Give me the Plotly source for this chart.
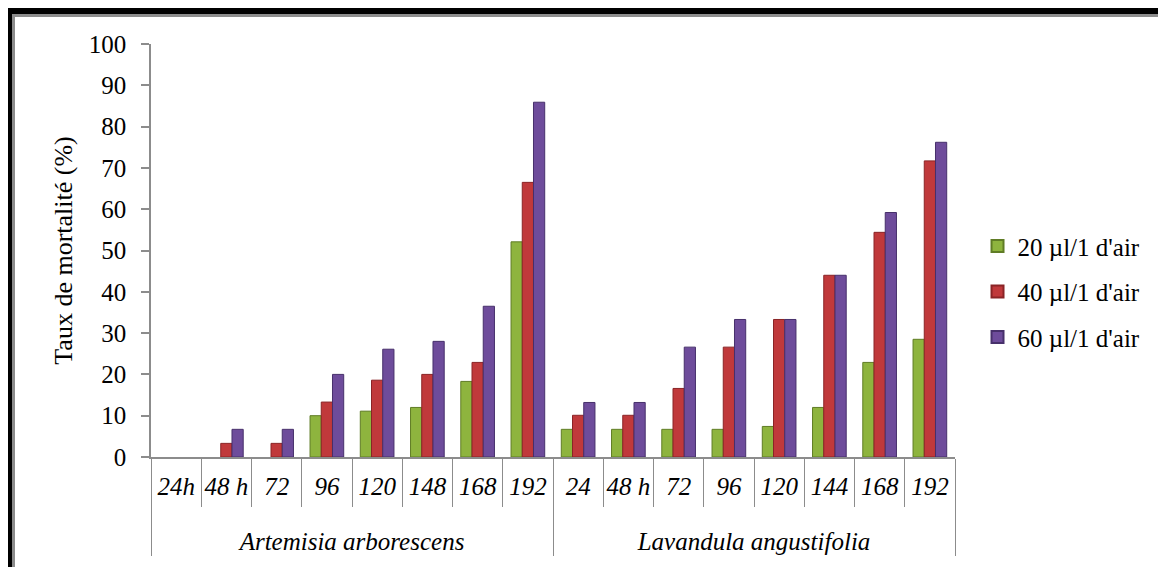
import plotly.graph_objects as go

species = ["<br>Artemisia arborescens"] * 8 + ["<br>Lavandula angustifolia"] * 8
# Lavandula labels carry a zero-width space so that the two groups keep their own order
times = ["24h", "48 h", "72", "96", "120", "148", "168", "192",
         "24\u200b", "48 h\u200b", "72\u200b", "96\u200b", "120\u200b",
         "144\u200b", "168\u200b", "192\u200b"]

dose_20 = [0, 0, 0, 10, 11.1, 12, 18.3, 52.1,
           6.7, 6.7, 6.7, 6.7, 7.4, 12, 22.9, 28.5]
dose_40 = [0, 3.3, 3.3, 13.3, 18.6, 20, 22.9, 66.5,
           10.1, 10.1, 16.6, 26.6, 33.3, 44, 54.4, 71.7]
dose_60 = [0, 6.7, 6.7, 20, 26.1, 28, 36.5, 85.9,
           13.2, 13.2, 26.6, 33.3, 33.3, 44, 59.2, 76.2]

names = ["20 µl/1 d'air", "40 µl/1 d'air", "60 µl/1 d'air"]
colors = ["#8EB43E", "#C0393B", "#6E4C9B"]
edges = ["#5F7C25", "#8A2426", "#47306B"]

FONT = "Liberation Serif, Times New Roman, Tinos, serif"

fig = go.Figure()
for i, (vals, nm) in enumerate(zip([dose_20, dose_40, dose_60], names)):
    fig.add_trace(go.Bar(
        x=[species, times], y=vals, name=nm, legendgroup=str(i),
        marker=dict(color=colors[i],
                    line=dict(color=edges[i],
                              width=[0 if v == 0 else 1 for v in vals])),
    ))

fig.update_layout(
    width=1158, height=559,
    margin=dict(l=143, r=211, t=36, b=110, autoexpand=False),
    paper_bgcolor="white", plot_bgcolor="white",
    barmode="group", bargap=0.33, bargroupgap=0,
    showlegend=True,
    legend=dict(x=1.028, y=0.40, xanchor="left", yanchor="middle",
                font=dict(family=FONT, size=25, color="black"),
                tracegroupgap=10, itemsizing="constant"),
    font=dict(family=FONT, color="black"),
)
fig.update_yaxes(
    range=[0, 100], dtick=10, showgrid=False, zeroline=False,
    showline=True, linecolor="#8C8C8C", linewidth=1.5,
    ticks="outside", ticklen=8, tickcolor="#8C8C8C", tickwidth=1.5,
    tickfont=dict(family=FONT, size=25, color="black"),
    ticklabelstandoff=10,
    title=dict(text="Taux de mortalité (%)", standoff=9,
               font=dict(family=FONT, size=26, color="black")),
)
fig.update_xaxes(
    type="multicategory", showgrid=False, automargin=False,
    showline=True, linecolor="#8C8C8C", linewidth=1.5,
    ticks="outside", tickson="boundaries", ticklen=48, tickangle=0,
    tickcolor="#8C8C8C", tickwidth=1.2, ticklabelstandoff=6,
    showdividers=True, dividercolor="#8C8C8C", dividerwidth=1.2,
    tickfont=dict(family=FONT, size=25, color="black", style="italic"),
)

# decorative frame (black outer rule, grey inner rule) on the left and top
fig.add_shape(type="line", xref="paper", yref="paper",
              x0=-0.17537, x1=-0.17537, y0=-0.4, y1=1.087,
              line=dict(color="black", width=4), layer="above")
fig.add_shape(type="line", xref="paper", yref="paper",
              x0=-0.18, x1=1.4, y0=1.0799, y1=1.0799,
              line=dict(color="black", width=6), layer="above")
fig.add_shape(type="line", xref="paper", yref="paper",
              x0=-0.17102, x1=-0.17102, y0=-0.4, y1=1.0727,
              line=dict(color="#8C8C8C", width=3), layer="above")
fig.add_shape(type="line", xref="paper", yref="paper",
              x0=-0.1729, x1=1.4, y0=1.06901, y1=1.06901,
              line=dict(color="#8C8C8C", width=3), layer="above")

fig.write_html("out.html")
